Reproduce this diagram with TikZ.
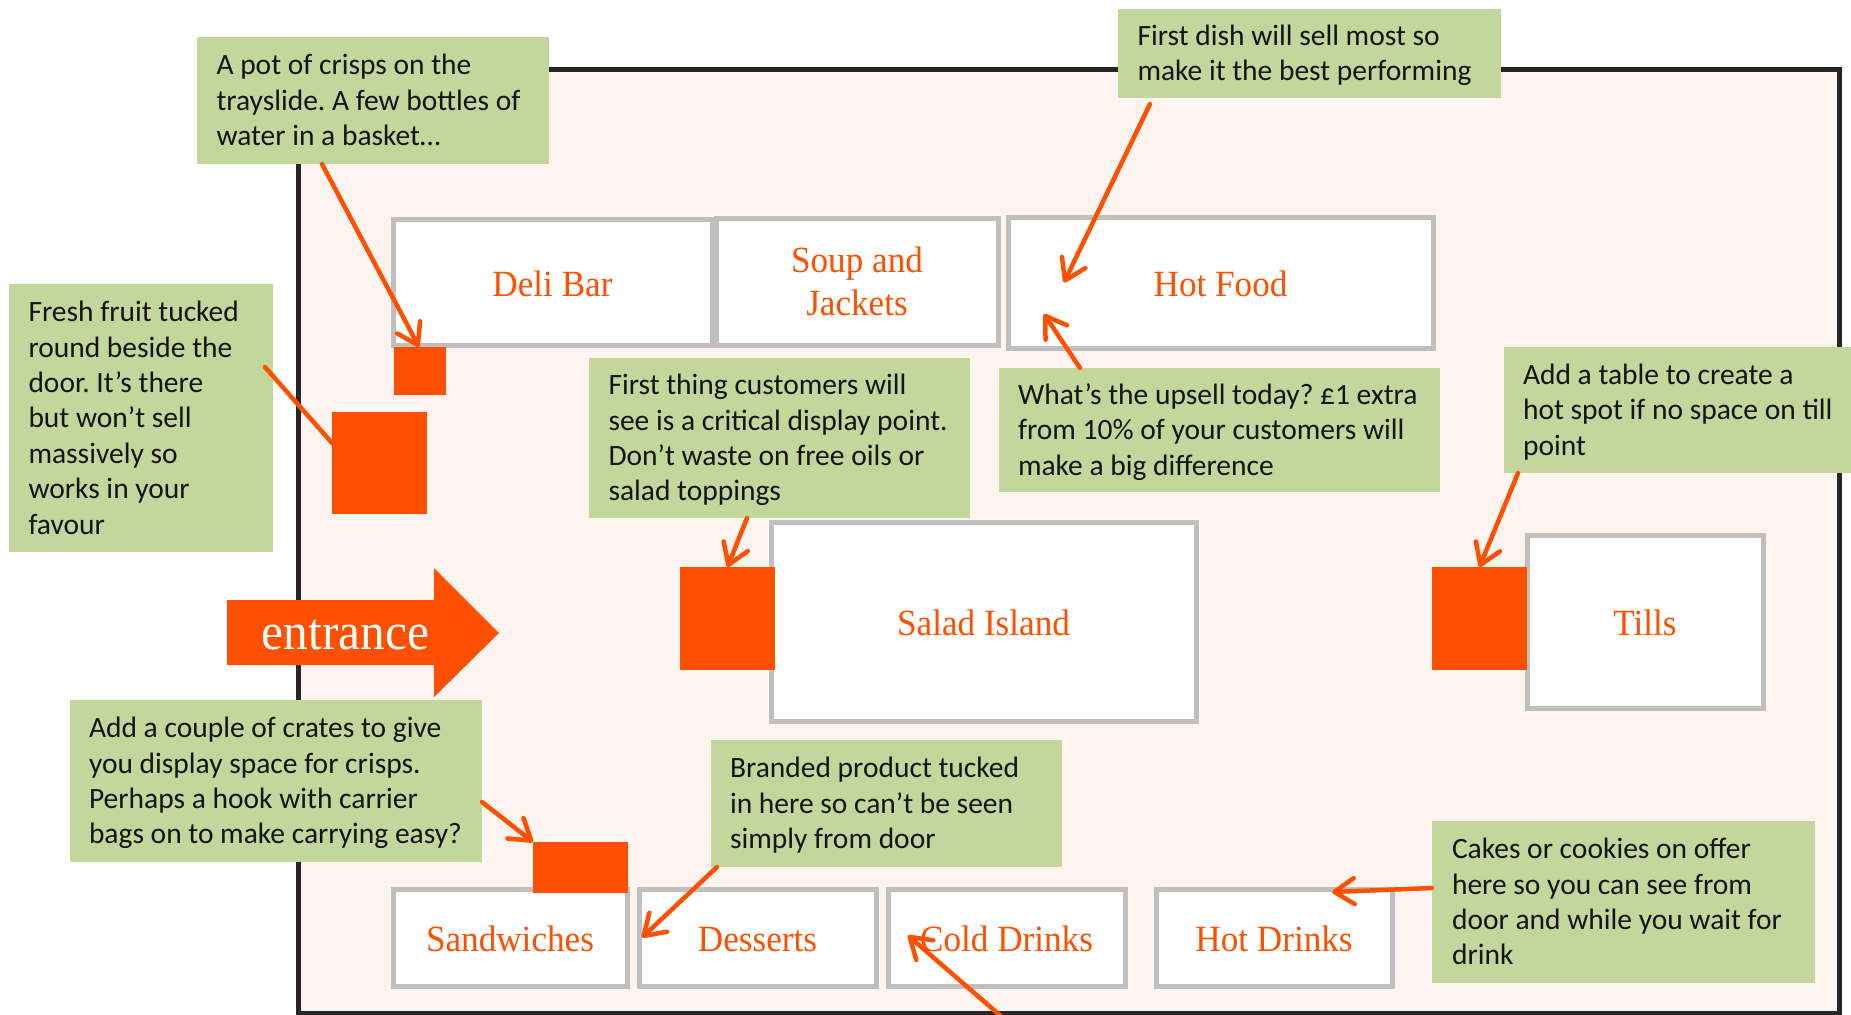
\documentclass[tikz,border=0pt]{standalone}
\usepackage{fontspec}
\setmainfont{Carlito}
\newfontfamily\labfont[FakeStretch=0.95]{Liberation Serif}
\usetikzlibrary{arrows.meta,calc}
\definecolor{fire}{HTML}{FF4F00}
\definecolor{notegreen}{HTML}{C3D69B}
\definecolor{roomfill}{HTML}{FDF3EF}
\definecolor{boxgray}{HTML}{BFBFBF}
\definecolor{roomline}{HTML}{262626}
\definecolor{ink}{HTML}{141414}
\newcommand\mystrut{\rule[-7.9pt]{0pt}{35.4pt}}
\frenchspacing
\begin{document}
\begin{tikzpicture}[x=1pt,y=-1pt,
  gbox/.style={draw=boxgray, line width=5pt, fill=white, inner sep=0pt, outer sep=0pt,
    font=\labfont\fontsize{37}{43}\selectfont, text=fire},
  one/.style={text height=28pt, text depth=0pt},
  spot/.style={fill=fire, inner sep=0pt, outer sep=0pt},
  note/.style={fill=notegreen, inner sep=0pt, outer sep=0pt},
  notetext/.style={inner sep=0pt, outer sep=0pt, align=left, text=ink,
    font=\frenchspacing\fontsize{29.5}{35.4}\selectfont, anchor=west},
  arr/.style={draw=fire, line width=4.5pt, line cap=round,
    -{Straight Barb[length=20pt,width=26pt,round]}},
  link/.style={draw=fire, line width=4.5pt, line cap=round}
]
\useasboundingbox (0,0) rectangle (1851,1014);
\fill[white] (0,0) rectangle (1851,1014);
% room
\fill[roomfill] (298.5,70) rectangle (1839.5,1013);
\draw[roomline, line width=5pt] (298.5,70) rectangle (1839.5,1013);

% counters
\node[gbox, one, minimum width=319pt, minimum height=126pt] (deli) at (552.5,282) {Deli Bar};
\node[gbox, align=center, minimum width=282pt, minimum height=127pt] (soup) at (857,281.5) {Soup and\\Jackets};
\node[gbox, one, minimum width=425pt, minimum height=131pt] (hotfood) at (1220.5,282.5) {Hot Food};
\node[gbox, one, minimum width=425pt, minimum height=199pt] (salad) at (983.5,621.5) {Salad Island};
\node[gbox, one, minimum width=236pt, minimum height=173pt] (tills) at (1645,621.5) {Tills};
\node[gbox, one, minimum width=234pt, minimum height=97pt] (sandw) at (510,937.5) {Sandwiches};
\node[gbox, one, minimum width=237pt, minimum height=97pt] (dess) at (757.5,937.5) {Desserts};
\node[gbox, one, minimum width=237pt, minimum height=97pt] (cold) at (1006.5,937.5) {Cold Drinks};
\node[gbox, one, minimum width=236pt, minimum height=97pt] (hotdr) at (1274,937.5) {Hot Drinks};

% hot spots
\node[spot, minimum width=52pt, minimum height=48pt] (sq1) at (420,371) {};
\node[spot, minimum width=95pt, minimum height=102pt] (sq2) at (379.5,463) {};
\node[spot, minimum width=95pt, minimum height=103pt] (sq3) at (727.5,618.5) {};
\node[spot, minimum width=95pt, minimum height=103pt] (sq4) at (1479.5,618.5) {};
\node[spot, minimum width=95pt, minimum height=51pt] (sq5) at (580.5,867.5) {};

% notes
\node[note, minimum width=352pt, minimum height=127pt] (crisps) at (373,100.5) {};
\node[notetext] (crispsT) at ($(crisps.west)+(19.5,0)$) {\mystrut A pot of crisps on the\\trayslide. A few bottles of\\water in a basket…\mystrut};

\node[note, minimum width=383pt, minimum height=89pt] (firstdish) at (1309.5,53.5) {};
\node[notetext] (firstdishT) at ($(firstdish.west)+(19.5,0)$) {\mystrut First dish will sell most so\\make it the best performing\mystrut};

\node[note, minimum width=264pt, minimum height=268pt] (fruit) at (141,418) {};
\node[notetext] (fruitT) at ($(fruit.west)+(19.5,0)$) {\mystrut Fresh fruit tucked\\round beside the\\door. It’s there\\but won’t sell\\massively so\\works in your\\favour\mystrut};

\node[note, minimum width=381pt, minimum height=160pt] (firstthing) at (779.5,438) {};
\node[notetext] (firstthingT) at ($(firstthing.west)+(19.5,0)$) {\mystrut First thing customers will\\see is a critical display point.\\Don’t waste on free oils or\\salad toppings\mystrut};

\node[note, minimum width=441pt, minimum height=124pt] (upsell) at (1219.5,430) {};
\node[notetext] (upsellT) at ($(upsell.west)+(19,0)$) {\mystrut What’s the upsell today? £1 extra\\from 10\% of your customers will\\make a big difference\mystrut};

\node[note, minimum width=347pt, minimum height=126pt] (table) at (1677.5,410) {};
\node[notetext] (tableT) at ($(table.west)+(19,0)$) {\mystrut Add a table to create a\\hot spot if no space on till\\point\mystrut};

\node[note, minimum width=412pt, minimum height=162pt] (crates) at (276,781) {};
\node[notetext] (cratesT) at ($(crates.west)+(19,0)$) {\mystrut Add a couple of crates to give\\you display space for crisps.\\Perhaps a hook with carrier\\bags on to make carrying easy?\mystrut};

\node[note, minimum width=351pt, minimum height=127pt] (branded) at (886.5,803.5) {};
\node[notetext] (brandedT) at ($(branded.west)+(19,0)$) {\mystrut Branded product tucked\\in here so can’t be seen\\simply from door\mystrut};

\node[note, minimum width=383pt, minimum height=162pt] (cakes) at (1623.5,902) {};
\node[notetext] (cakesT) at ($(cakes.west)+(20,0)$) {\mystrut Cakes or cookies on offer\\here so you can see from\\door and while you wait for\\drink\mystrut};

% entrance arrow
\fill[fire] (227,600) -- (434,600) -- (434,568) -- (499,633) -- (434,697) -- (434,665) -- (227,665) -- cycle;
\node[font=\labfont\fontsize{52}{60}\selectfont, text=white, anchor=base, inner sep=0pt] (entr) at (345.5,649) {entrance};

% connectors
\coordinate (door) at (1010,1024);
\draw[arr] ($(crisps.south west)+(125,0)$) -- ($(sq1.north west)+(25,0)$);
\draw[arr] ($(firstdish.south west)+(32,6)$) -- ($(hotfood.west)+(56,0)$);
\draw[arr] ($(upsell.north west)+(81,0)$) -- ($(hotfood.south west)+(36,-34)$);
\draw[link] ($(fruit.north east)+(-8,83)$) -- ($(sq2.north west)+(0,31)$);
\draw[arr] ($(firstthing.south west)+(158,0)$) -- (sq3.north);
\draw[arr] ($(table.south west)+(14,0)$) -- (sq4.north);
\draw[arr] ($(crates.east)+(0,21)$) -- (sq5.north west);
\draw[arr] ($(branded.south west)+(6,0)$) -- ($(dess.west)+(3,0)$);
\draw[arr] (door) -- ($(cold.west)+(20,-2)$);
\draw[arr] ($(cakes.west)+(0,-14)$) -- ($(hotdr.north east)+(-60,3)$);
\end{tikzpicture}
\end{document}
